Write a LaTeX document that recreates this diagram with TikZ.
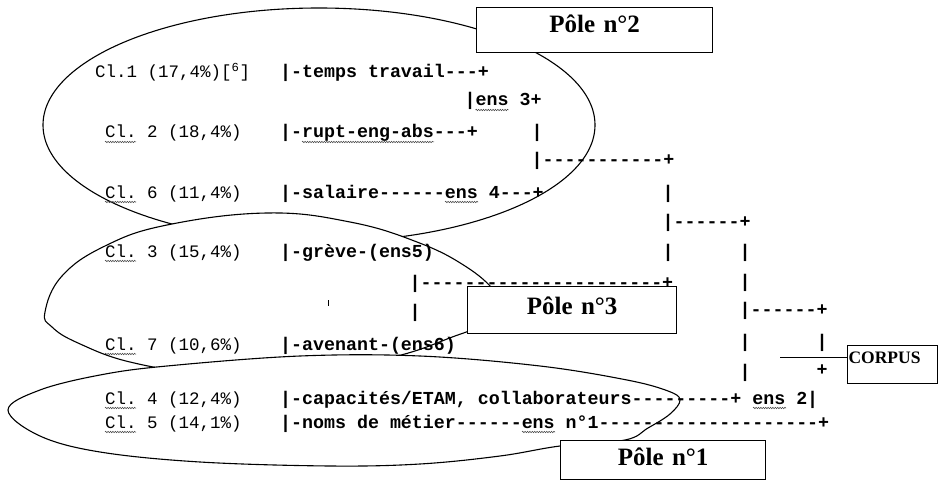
\documentclass[tikz,border=0pt]{standalone}
\usepackage{fontspec}
\setmainfont{Liberation Serif}
\setmonofont{Liberation Mono}
\usetikzlibrary{decorations.pathmorphing}
\tikzset{
  lbl/.style={anchor=base west, inner sep=0pt, font=\ttfamily\fontsize{17.5}{20}\selectfont},
  tree/.style={anchor=base west, inner sep=0pt, font=\ttfamily\bfseries\fontsize{18.3}{20}\selectfont},
  vbar/.style={anchor=base, inner sep=0pt, font=\ttfamily\bfseries\fontsize{18.3}{20}\selectfont},
  ell/.style={draw, fill=white, line width=1.1pt},
  polebox/.style={draw, fill=white, line width=1.3pt, inner sep=0pt, align=center, anchor=north west,
    font=\bfseries\fontsize{25}{28}\selectfont},
  squig/.style={draw=black!75, line width=0.5pt, decorate, decoration={snake, amplitude=0.7pt, segment length=2.4pt}},
}
\begin{document}
\begin{tikzpicture}[x=1pt, y=-1pt]
\fill[white] (0,0) rectangle (939,481);
\useasboundingbox (0,0) rectangle (939,481);

% ellipses (poles)
\draw[ell] (319,125) ellipse [x radius=276pt, y radius=117pt];
\draw[ell] plot[smooth cycle, tension=0.7] coordinates {(45,312) (62,276) (105,246) (167,225) (267,213) (350,222) (417,242) (465,266) (495,292) (500,312) (480,326) (455,336) (393,357) (300,372) (200,372) (130,362) (78,343) (52,327)};
\draw[ell] plot[smooth cycle, tension=0.6] coordinates {(8,410) (40,390) (100,375) (167,366) (300,356) (420,356) (540,366) (627,380) (668,391) (680,400) (670,414) (648,428) (625,440) (560,446) (500,456) (420,464) (330,466) (200,462) (100,452) (40,436)};

% pole boxes
\node[polebox, text width=236pt, text height=25pt, text depth=20pt] (p2) at (476,7) {Pôle n°2\hspace*{12pt}};
\node[polebox, text width=209pt, text height=28pt, text depth=19pt] (p3) at (467,286) {Pôle n°3};
\node[polebox, text width=205pt, text height=25pt, text depth=14pt] (p1) at (560,440) {Pôle n°1};
\node[draw, fill=white, line width=1.2pt, anchor=north west, inner sep=0pt, text width=90pt,
  text height=18pt, text depth=20pt, align=left, font=\bfseries\fontsize{17.5}{20}\selectfont] (corpus) at (847,345) {\hspace*{1pt}CORPUS};
\coordinate (cs) at (780,357);
\draw[line width=1pt] (cs) -- (cs -| corpus.west);

% class labels
\node[lbl] (c1) at (95,78) {Cl.1 (17,4\%)[\textsuperscript{6}]};
\node[lbl] (c2) at (105,138) {Cl. 2 (18,4\%)};
\node[lbl] (c6) at (105,198) {Cl. 6 (11,4\%)};
\node[lbl] (c3) at (105,257) {Cl. 3 (15,4\%)};
\node[lbl] (c7) at (105,350) {Cl. 7 (10,6\%)};
\node[lbl] (c4) at (105,404) {Cl. 4 (12,4\%)};
\node[lbl] (c5) at (105,428) {Cl. 5 (14,1\%)};

% tree
\node[tree] (t1) at (280,78) {|-temps travail---+};
\node[tree] (e3) at (464.5,106) {|ens 3+};
\node[tree] (t2) at (280,138) {|-rupt-eng-abs---+};
\node[vbar] (b1) at (537,138) {|};
\node[tree] (t3) at (531.5,166) {|-----------+};
\node[tree] (t6) at (280,198) {|-salaire------ens 4---+};
\node[vbar] (b2) at (668,198) {|};
\node[tree] (t7) at (662.5,227) {|------+};
\node[tree] (t8) at (280,257) {|-grève-(ens5)};
\node[vbar] (b3) at (668,257) {|};
\node[vbar] (b4) at (745,257) {|};
\node[tree] (t9) at (409.5,288) {|----------------------+};
\node[vbar] (b5) at (745,287) {|};
\node[vbar] (b6) at (415,317) {|};
\node[tree] (t10) at (739.5,315) {|------+};
\node[tree] (t11) at (280,350) {|-avenant-(ens6)};
\node[vbar] (b7) at (745,347) {|};
\node[vbar] (b8) at (822,347) {|};
\node[vbar] (b9) at (822,375) {+};
\node[vbar] (b10) at (745,377) {|};
\node[tree] (t12) at (280,404) {|-capacités/ETAM, collaborateurs---------+ ens 2|};
\node[tree] (t13) at (280,428) {|-noms de métier------ens n°1--------------------+};

% stray tick
\draw[line width=0.8pt] (328,300) -- (328,306);

% wavy underlines
\foreach \n in {c2,c6,c3,c7,c4,c5}{\draw[squig] ([yshift=-4pt]\n.base west) -- ++(31,0);}
\draw[squig] ([xshift=22pt,yshift=-4pt]t2.base west) -- ++(132,0);
\draw[squig] ([xshift=11pt,yshift=-4pt]e3.base west) -- ++(33,0);
\draw[squig] ([xshift=165pt,yshift=-4pt]t6.base west) -- ++(33,0);
\draw[squig] ([xshift=473pt,yshift=-4pt]t12.base west) -- ++(33,0);
\draw[squig] ([xshift=242pt,yshift=-4pt]t13.base west) -- ++(33,0);
\end{tikzpicture}
\end{document}
